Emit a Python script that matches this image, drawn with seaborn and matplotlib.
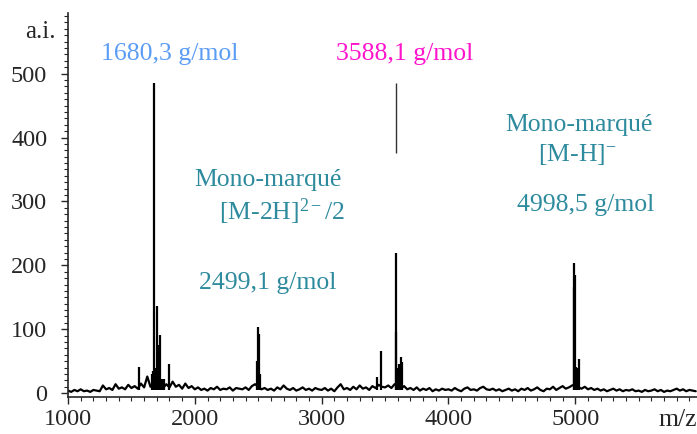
import matplotlib
matplotlib.use("Agg")
import matplotlib.pyplot as plt
from matplotlib.ticker import MultipleLocator
import pandas as pd
import seaborn as sns

# baseline noise, one value every 25 m/z from 1000 to 5950
noise_start = 1000
noise_step = 25
noise = [
    4, 2, 5, 3, 6, 3, 4, 2, 5, 4, 3, 12, 6, 8, 5, 14, 7, 9, 6, 13,
    8, 11, 7, 15, 9, 26, 10, 12, 16, 11, 8, 14, 9, 18, 10, 13, 7, 15, 8, 11,
    6, 9, 5, 7, 4, 8, 6, 10, 5, 7, 6, 9, 4, 8, 7, 6, 9, 5, 11, 14,
    10, 6, 8, 5, 7, 4, 9, 6, 12, 7, 5, 8, 4, 6, 9, 5, 7, 4, 8, 6,
    5, 8, 4, 7, 3, 9, 14, 6, 8, 5, 10, 6, 12, 7, 9, 5, 11, 8, 13, 10,
    9, 12, 8, 14, 10, 7, 11, 6, 8, 5, 9, 4, 7, 5, 8, 3, 6, 4, 7, 5,
    6, 4, 8, 5, 3, 7, 9, 5, 6, 4, 8, 10, 6, 5, 7, 4, 6, 3, 5, 7,
    4, 6, 3, 7, 5, 8, 4, 6, 9, 5, 3, 7, 6, 10, 5, 8, 11, 7, 9, 12,
    14, 9, 7, 10, 6, 8, 5, 7, 4, 6, 3, 5, 7, 4, 6, 3, 5, 4, 6, 3,
    4, 2, 5, 3, 4, 6, 3, 5, 2, 4, 3, 5, 7, 4, 6, 3, 5, 4, 3,
]

# peaks (m/z, intensity)
peak_mz = [1560, 1665, 1672, 1680, 1690, 1700, 1710, 1718, 1724, 1740, 1760, 1795,
           2490, 2496, 2503, 2510, 3440, 3465, 3583, 3590, 3600, 3610, 3622, 3630,
           4988, 4992, 4995, 5005, 5020, 5031]
peak_int = [41, 30, 35, 486, 40, 137, 30, 75, 91, 22, 22, 45,
            50, 103, 92, 30, 25, 66, 219, 96, 40, 45, 56, 49,
            166, 204, 185, 41, 40, 53]

# detached top of the 3588 peak
top_mz = 3588
top_low, top_high = 376, 486

labels = ["1680,3 g/mol", "3588,1 g/mol", "Mono-marqué", "[M-2H]$^{2-}$/2",
          "2499,1 g/mol", "Mono-marqué", "[M-H]$^{-}$", "4998,5 g/mol"]
label_x = [1803, 3654, 2575, 2690, 2575, 5031, 5020, 5079]
label_y = [530, 530, 334, 284, 172, 420, 373, 295]
blue = "#5b9cf5"
pink = "#ff14cc"
teal = "#2e8b9e"
label_col = [blue, pink, teal, teal, teal, teal, teal, teal]

sns.set_style("ticks")
plt.rcParams["font.family"] = ["Liberation Serif", "DejaVu Serif"]
plt.rcParams["mathtext.fontset"] = "custom"
plt.rcParams["mathtext.rm"] = "Liberation Serif"
plt.rcParams["mathtext.it"] = "Liberation Serif:italic"

noise_mz = [noise_start + noise_step * i for i in range(len(noise))]
df = pd.DataFrame({"mz": noise_mz, "ai": noise})

fig = plt.figure(figsize=(6.97, 4.34), dpi=100)
ax = fig.add_axes([0.0976, 0.0853, 0.9024, 0.885])

sns.lineplot(data=df, x="mz", y="ai", color="black", lw=1.6,
             estimator=None, sort=True, ax=ax)
ax.vlines(peak_mz, 5, peak_int, color="black", lw=1.6)
ax.vlines(top_mz, top_low, top_high, color="#333333", lw=1)

ax.set_xlim(1000, 5960)
ax.set_ylim(-6, 595)
ax.set_xticks([1000, 2000, 3000, 4000, 5000])
ax.set_yticks([0, 100, 200, 300, 400, 500])
ax.xaxis.set_minor_locator(MultipleLocator(100))
ax.yaxis.set_minor_locator(MultipleLocator(10))
ax.tick_params(which="major", length=5, width=1, labelsize=17.5)
ax.tick_params(axis="x", which="major", pad=4)
ax.tick_params(axis="y", which="major", pad=10)
ax.tick_params(which="minor", length=3, width=0.8)
ax.set_xlabel("")
ax.set_ylabel("")
sns.despine(ax=ax)
for s in ["left", "bottom"]:
    ax.spines[s].set_linewidth(1.2)

for t, x, y, c in zip(labels, label_x, label_y, label_col):
    ax.text(x, y, t, color=c, fontsize=18.5, ha="center", va="center")

fig.text(40 / 697, 1 - 32 / 434, "a.i.", fontsize=18, ha="center", va="center")
fig.text(678 / 697, 1 - 420 / 434, "m/z", fontsize=18.5, ha="center", va="center")

fig.savefig("out.png", dpi=100)
